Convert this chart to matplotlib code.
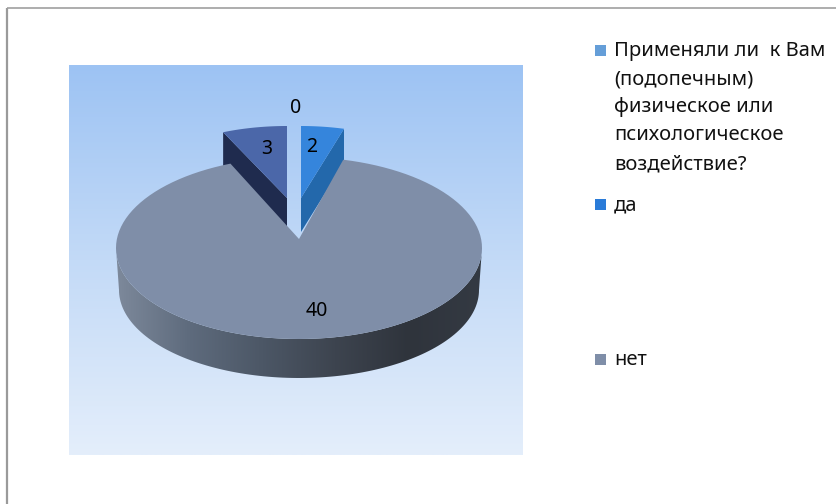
import numpy as np
import matplotlib
matplotlib.use("Agg")
import matplotlib.pyplot as plt
from matplotlib.colors import LinearSegmentedColormap
from matplotlib.patches import Polygon, Rectangle

# data
categories = ["zero", "да", "нет", "прочее"]
values = [0, 2, 40, 3]
value_labels = ["0", "2", "40", "3"]
legend_lines = ["Применяли ли  к Вам", "(подопечным)", "физическое или", "психологическое", "воздействие?"]

plt.rcParams["font.family"] = ["Noto Sans", "DejaVu Sans"]
fig = plt.figure(figsize=(8.37, 5.04), dpi=100)
ax = fig.add_axes([0, 0, 1, 1])

W, H = 837, 504
total = sum(values)
fracs = np.cumsum([0] + values) / total * 360  # clockwise from top
big_spread = 2  # perspective widens the big slice slightly on each side


def arc(cx, cy, rx, ry, a0, a1, n=120):
    t = np.radians(np.linspace(a0, a1, n))
    return np.column_stack([cx + rx * np.sin(t), cy - ry * np.cos(t)])


def sector(cx, cy, rx, ry, a0, a1, apex):
    return np.vstack([[apex], arc(cx, cy, rx, ry, a0, a1)])


# panel gradient
panel_cmap = LinearSegmentedColormap.from_list("panel", ["#9dc3f3", "#c3daf7", "#e4eefb"])
ax.imshow(np.linspace(0, 1, 256)[:, None], extent=(69, 523, 455, 65), cmap=panel_cmap,
          aspect="auto", zorder=1)

# frame lines
ax.plot([7, 7], [8, H], color="#9a9a9a", lw=1.6, zorder=1, solid_capstyle="butt")
ax.plot([7, W], [8, 8], color="#a0a0a0", lw=1.2, zorder=1, solid_capstyle="butt")

# small slices
a_blue0, a_blue1 = fracs[1], fracs[2]
a_dark0, a_dark1 = fracs[3], fracs[4]

blue_top = sector(301, 198, 156, 72, a_blue0, a_blue1, (301, 198))
blue_corner = blue_top[-1]
ax.add_patch(Polygon([(301, 198), blue_corner, blue_corner + [0, 34], (301, 232)],
                     fc="#2368ab", ec="none", zorder=2))
ax.add_patch(Polygon(blue_top, fc="#3585dc", ec="none", zorder=3))

dark_top = sector(287, 198, 157, 72, a_dark0, a_dark1, (287, 198))
dark_corner = dark_top[1]
ax.add_patch(Polygon([(287, 198), dark_corner, dark_corner + [0, 36], (287, 234)],
                     fc="#1f2b4e", ec="none", zorder=2))
ax.add_patch(Polygon(dark_top, fc="#4b67a9", ec="none", zorder=3))

# big slice side
side_cmap = LinearSegmentedColormap.from_list(
    "side", ["#7d899b", "#5e6b7d", "#4c5766", "#3d444f", "#2f343c", "#343a43"])
top_cx, top_cy, top_rx, top_ry = 299, 248, 183, 91
side_path = np.vstack([
    arc(top_cx, top_cy, top_rx, top_ry, 90, 270),
    arc(top_cx, 290, 180, 88, 270, 90),
])
side_poly = Polygon(side_path, fc="none", ec="none", transform=ax.transData)
ax.add_patch(side_poly)
im = ax.imshow(np.linspace(0, 1, 256)[None, :], extent=(116, 482, 380, 248),
               cmap=side_cmap, aspect="auto", zorder=4)
im.set_clip_path(side_poly)

# big slice top
big_top = sector(top_cx, top_cy, top_rx, top_ry,
                 fracs[2] - big_spread, fracs[3] + big_spread, (299, 239))
ax.add_patch(Polygon(big_top, fc="#7f8ea8", ec="none", zorder=5))

# value labels
label_pos = [(296, 108), (312, 147), (317, 311), (267, 149)]
for s, (x, y) in zip(value_labels, label_pos):
    ax.text(x, y, s, ha="center", va="center", fontsize=14, color="black", zorder=6)

# legend
marker_colors = ["#659ed8", "#2a7bd8", "#7f8ea8"]
marker_y = [50, 204, 359]
for c, y in zip(marker_colors, marker_y):
    ax.add_patch(Rectangle((595, y - 5.5), 11, 11, fc=c, ec="none", zorder=6))
for line, y in zip(legend_lines, [51, 79, 107, 135, 164]):
    ax.text(614, y, line, ha="left", va="center", fontsize=14.5, color="#111111", zorder=6)
ax.text(614, 205, "да", ha="left", va="center", fontsize=14.5, color="#111111", zorder=6)
ax.text(614, 360, "нет", ha="left", va="center", fontsize=14.5, color="#111111", zorder=6)

ax.set_xlim(0, W)
ax.set_ylim(H, 0)
ax.axis("off")
fig.savefig("out.png", dpi=100, facecolor="white")
